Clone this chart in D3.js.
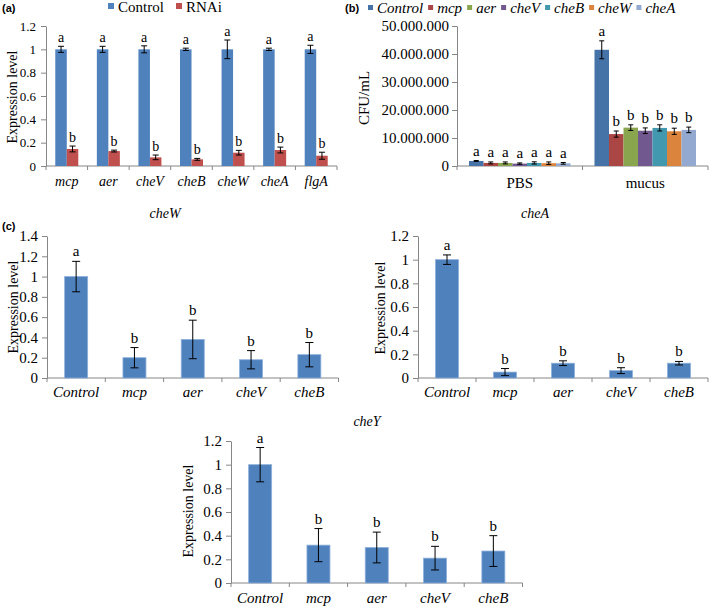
<!DOCTYPE html>
<html><head><meta charset="utf-8">
<script src="https://cdn.jsdelivr.net/npm/d3@7"></script>
<style>
body{margin:0;background:#fff;}
svg{display:block;}
</style></head>
<body>
<svg id="fig" width="709" height="607"></svg>
<script>
// ---------- Data ----------
// (a)
const aCats = ["mcp","aer","cheV","cheB","cheW","cheA","flgA"];
const aSeries = ["Control","RNAi"];
const aControl = [1,1,1,1,1,1,1];
const aControlErr = [0.026,0.026,0.03,0.01,0.08,0.01,0.035];
const aRNAi = [0.146,0.128,0.074,0.057,0.114,0.137,0.088];
const aRNAiErr = [0.025,0.008,0.02,0.008,0.02,0.025,0.03];
const aControlLetters = ["a","a","a","a","a","a","a"];
const aRNAiLetters = ["b","b","b","b","b","b","b"];
const aTicks = [0,0.2,0.4,0.6,0.8,1,1.2];
// (b)
const bCats = ["PBS","mucus"];
const bSeries = ["Control","mcp","aer","cheV","cheB","cheW","cheA"];
const bPBS = [1800000,1100000,1100000,850000,1100000,1000000,950000];
const bPBSErr = [150000,350000,350000,250000,400000,450000,300000];
const bMucus = [41500000,11400000,13700000,12600000,13600000,12400000,12900000];
const bMucusErr = [3200000,1100000,1000000,1000000,1100000,1100000,1000000];
const bPBSLetters = ["a","a","a","a","a","a","a"];
const bMucusLetters = ["a","b","b","b","b","b","b"];
const bTicks = [0,10000000,20000000,30000000,40000000,50000000];
// (c)
const cCats = ["Control","mcp","aer","cheV","cheB"];
const cLetters = ["a","b","b","b","b"];
const cheWVals = [1.0,0.20,0.38,0.18,0.23];
const cheWErr = [0.15,0.10,0.19,0.09,0.12];
const cheWTicks = [0,0.2,0.4,0.6,0.8,1,1.2,1.4];
const cheAVals = [1.0,0.05,0.125,0.062,0.125];
const cheAErr = [0.04,0.03,0.02,0.025,0.015];
const cheYVals = [1.0,0.32,0.30,0.21,0.27];
const cheYErr = [0.145,0.14,0.13,0.10,0.13];
const cTicks12 = [0,0.2,0.4,0.6,0.8,1,1.2];

const aColors = ["#4F81BD","#C0504D"];
const bColors = ["#4572A7","#AA4643","#89A54E","#71588F","#4198AF","#DB843D","#93A9CF"];
const axisCol = "#868686";
const SERIF = '"Liberation Serif", "Times New Roman", serif';
const SANS = '"Liberation Sans", Arial, sans-serif';

const svg = d3.select("#fig");
const dotFmt = d3.formatLocale({thousands:".",grouping:[3],decimal:",",currency:["",""]}).format(",d");
const numFmt = d => String(+d.toFixed(1));

function txt(sel, size, italic){
  return sel.style("font-family",SERIF).style("font-size",size+"px")
    .style("font-style",italic?"italic":"normal").attr("fill","#000");
}

function panel(opt){
  const g = svg.append("g");
  const x = d3.scaleBand().domain(opt.cats).range([opt.x0,opt.x1]).paddingInner(0).paddingOuter(0);
  const y = d3.scaleLinear().domain([0,opt.ymax]).range([opt.y0,opt.yTop]);
  const nS = opt.series.length;
  const groupW = opt.barW*nS;
  const xs = d3.scaleBand().domain(d3.range(nS)).range([0,groupW]);
  // y axis
  const ya = d3.axisLeft(y).tickValues(opt.ticks).tickFormat(opt.fmt).tickSize(5).tickSizeOuter(0);
  const yg = g.append("g").attr("transform",`translate(${opt.x0},0)`).call(ya);
  yg.select(".domain").attr("stroke",axisCol);
  yg.selectAll(".tick line").attr("stroke",axisCol);
  txt(yg.selectAll(".tick text"),opt.tickFs,false).attr("x",-opt.tickGap);
  // x axis line with boundary ticks
  const xg = g.append("g");
  xg.append("line").attr("x1",opt.x0).attr("x2",opt.x1).attr("y1",opt.y0).attr("y2",opt.y0).attr("stroke",axisCol);
  const bounds = opt.cats.map(c=>x(c)).concat([opt.x1]);
  xg.selectAll("line.bt").data(bounds).join("line").attr("class","bt")
    .attr("x1",d=>d).attr("x2",d=>d).attr("y1",opt.y0).attr("y2",opt.y0+4).attr("stroke",axisCol);
  txt(xg.selectAll("text").data(opt.cats).join("text")
    .attr("x",d=>x(d)+x.bandwidth()/2).attr("y",opt.catY).attr("text-anchor","middle"),opt.catFs,opt.catItalic)
    .text(d=>d);
  // bars
  opt.cats.forEach((c,ci)=>{
    const gx = x(c)+(x.bandwidth()-groupW)/2;
    opt.series.forEach((s,si)=>{
      const v = opt.values[si][ci], e = opt.errs[si][ci];
      const bx = gx+xs(si);
      g.append("rect").attr("x",bx).attr("y",y(v)).attr("width",xs.bandwidth()).attr("height",opt.y0-y(v))
        .attr("fill",opt.colors[si]).attr("stroke",opt.barStroke||"none").attr("stroke-width",0.8);
      const cx = bx+xs.bandwidth()/2;
      const cw = opt.capW/2;
      const lo = y(Math.max(0,v-e)), hi = y(v+e);
      g.append("line").attr("x1",cx).attr("x2",cx).attr("y1",hi).attr("y2",lo).attr("stroke","#000").attr("stroke-width",1);
      g.append("line").attr("x1",cx-cw).attr("x2",cx+cw).attr("y1",hi).attr("y2",hi).attr("stroke","#000").attr("stroke-width",1);
      g.append("line").attr("x1",cx-cw).attr("x2",cx+cw).attr("y1",lo).attr("y2",lo).attr("stroke","#000").attr("stroke-width",1);
      txt(g.append("text").attr("x",cx).attr("y",hi-opt.letGap).attr("text-anchor","middle"),opt.letFs,false)
        .text(opt.letters[si][ci]);
    });
  });
  // y label
  txt(g.append("text").attr("transform",`translate(${opt.ylabX},${opt.ylabY}) rotate(-90)`)
    .attr("text-anchor","middle"),opt.ylabFs,false).text(opt.ylab);
  if(opt.title){
    txt(g.append("text").attr("x",opt.titleX).attr("y",opt.titleY).attr("text-anchor","middle"),14,true).text(opt.title);
  }
}

function plab(x,y,t){
  svg.append("text").attr("x",x).attr("y",y).style("font-family",SANS).style("font-weight","bold")
    .style("font-size","11px").attr("fill","#000").text(t);
}

// ---- (a)
panel({cats:aCats,series:aSeries,values:[aControl,aRNAi],errs:[aControlErr,aRNAiErr],
  letters:[aControlLetters,aRNAiLetters],colors:aColors,
  x0:46,x1:337,y0:166,yTop:26,ymax:1.2,ticks:aTicks,fmt:numFmt,tickFs:13,tickGap:10,
  barW:11.5,capW:6,catY:186,catFs:14,catItalic:true,letFs:14,letGap:4,
  ylab:"Expression level",ylabX:17,ylabY:97,ylabFs:14});
const legA = svg.append("g");
aSeries.forEach((s,i)=>{
  const lx=[108,176][i];
  legA.append("rect").attr("x",lx).attr("y",3).attr("width",6).attr("height",6).attr("fill",aColors[i]);
  txt(legA.append("text").attr("x",lx+10).attr("y",12),15,false).text(s);
});
plab(2,12,"(a)");

// ---- (b)
panel({cats:bCats,series:bSeries,values:bSeries.map((s,i)=>[bPBS[i],bMucus[i]]),
  errs:bSeries.map((s,i)=>[bPBSErr[i],bMucusErr[i]]),
  letters:bSeries.map((s,i)=>[bPBSLetters[i],bMucusLetters[i]]),colors:bColors,
  x0:457,x1:708,y0:166,yTop:26,ymax:50000000,ticks:bTicks,fmt:dotFmt,tickFs:15,tickGap:8,
  barW:14.5,capW:5,catY:188,catFs:15,catItalic:false,letFs:15,letGap:5,
  ylab:"CFU/mL",ylabX:369,ylabY:98,ylabFs:15});
const legB = svg.append("g");
let lxB = 368;
bSeries.forEach((s,i)=>{
  legB.append("rect").attr("x",lxB).attr("y",5).attr("width",5).attr("height",5).attr("fill",bColors[i]);
  const t = txt(legB.append("text").attr("x",lxB+9).attr("y",13),15,true).text(s);
  lxB += 9 + t.node().getComputedTextLength() + 5;
});
plab(345,12,"(b)");

// ---- (c)
plab(2,230,"(c)");
function single(vals,errs,o){
  panel(Object.assign({cats:cCats,series:["v"],values:[vals],errs:[errs],letters:[cLetters],colors:["#4F81BD"],
    barStroke:"#8DB0DA",barW:23,capW:8,catFs:15,catItalic:true,letFs:15,letGap:5,tickFs:15,tickGap:9,fmt:numFmt,
    ylab:"Expression level",ylabFs:14},o));
}
single(cheWVals,cheWErr,{x0:47,x1:338.5,y0:378,yTop:236,ymax:1.4,ticks:cheWTicks,catY:397,
  ylabX:18,ylabY:307,title:"cheW",titleX:165,titleY:218});
single(cheAVals,cheAErr,{x0:418,x1:708,y0:378,yTop:236,ymax:1.2,ticks:cTicks12,catY:397,
  ylabX:385,ylabY:308,title:"cheA",titleX:535,titleY:218});
single(cheYVals,cheYErr,{x0:231,x1:522.5,y0:583,yTop:441,ymax:1.2,ticks:cTicks12,catY:603,
  ylabX:193,ylabY:511,title:"cheY",titleX:367,titleY:426});
</script>
</body></html>
